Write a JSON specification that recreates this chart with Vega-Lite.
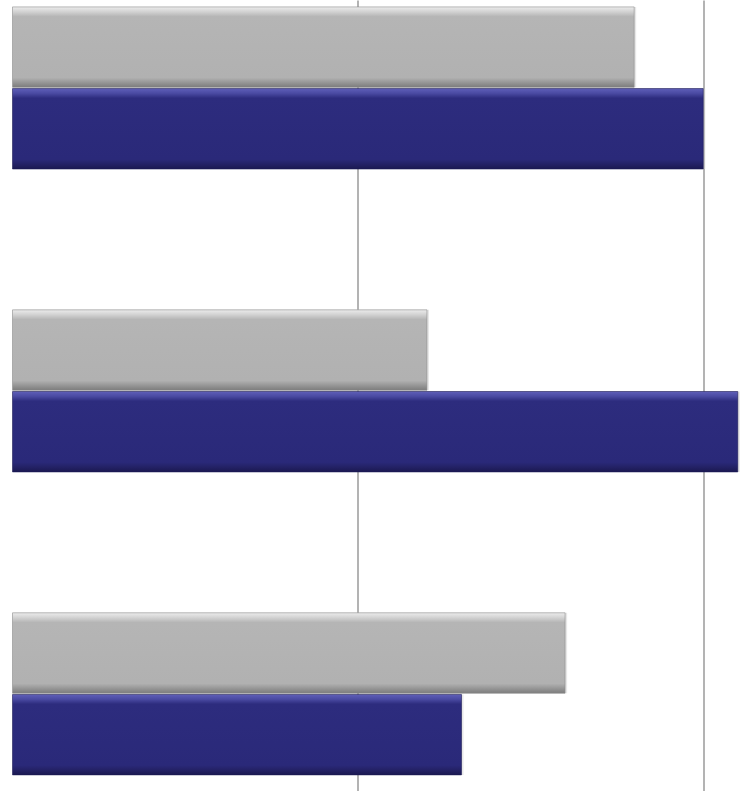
{
  "$schema": "https://vega.github.io/schema/vega-lite/v6.json",
  "width": 736,
  "height": 791,
  "autosize": {"type": "none"},
  "padding": {"left": 12.5, "top": 0, "right": 0, "bottom": 0},
  "background": "white",
  "config": {"view": {"stroke": null}},
  "data": {
    "values": [
      {"group": "A", "series": "grey", "value": 1.80},
      {"group": "A", "series": "navy", "value": 2.00},
      {"group": "B", "series": "grey", "value": 1.20},
      {"group": "B", "series": "navy", "value": 2.10},
      {"group": "C", "series": "grey", "value": 1.60},
      {"group": "C", "series": "navy", "value": 1.30}
    ]
  },
  "encoding": {
    "y": {
      "field": "group",
      "type": "nominal",
      "scale": {"paddingInner": 0.465, "paddingOuter": 0.038, "align": 0.3},
      "axis": null
    },
    "yOffset": {
      "field": "series",
      "type": "nominal",
      "scale": {"domain": ["grey", "navy"], "paddingInner": 0.015}
    },
    "x": {
      "field": "value",
      "type": "quantitative",
      "scale": {"domain": [0, 2.131], "nice": false, "zero": true},
      "axis": {
        "values": [1, 2],
        "grid": true,
        "gridColor": "#8a8a8a",
        "gridWidth": 1.3,
        "gridOpacity": 1,
        "labels": false,
        "ticks": false,
        "domain": false,
        "title": null
      }
    }
  },
  "layer": [
    {
      "mark": {"type": "bar", "color": "#cfcfcf", "opacity": 0.5, "xOffset": 2, "yOffset": 4}
    },
    {
      "transform": [{"filter": "datum.series === 'grey'"}],
      "mark": {
        "type": "bar",
        "stroke": "#8c8c8c",
        "strokeWidth": 0.6,
        "color": {
          "gradient": "linear",
          "x1": 0, "y1": 0, "x2": 0, "y2": 1,
          "stops": [
            {"offset": 0, "color": "#ececec"},
            {"offset": 0.06, "color": "#d2d2d2"},
            {"offset": 0.12, "color": "#b5b5b5"},
            {"offset": 0.88, "color": "#b1b1b1"},
            {"offset": 0.95, "color": "#929292"},
            {"offset": 1, "color": "#7c7c7c"}
          ]
        }
      }
    },
    {
      "transform": [{"filter": "datum.series === 'navy'"}],
      "mark": {
        "type": "bar",
        "stroke": "#1e1c58",
        "strokeWidth": 0.6,
        "color": {
          "gradient": "linear",
          "x1": 0, "y1": 0, "x2": 0, "y2": 1,
          "stops": [
            {"offset": 0, "color": "#5f5fb8"},
            {"offset": 0.06, "color": "#4a4aa2"},
            {"offset": 0.12, "color": "#2d2c7e"},
            {"offset": 0.88, "color": "#2a2979"},
            {"offset": 0.95, "color": "#222062"},
            {"offset": 1, "color": "#1a1850"}
          ]
        }
      }
    }
  ]
}
